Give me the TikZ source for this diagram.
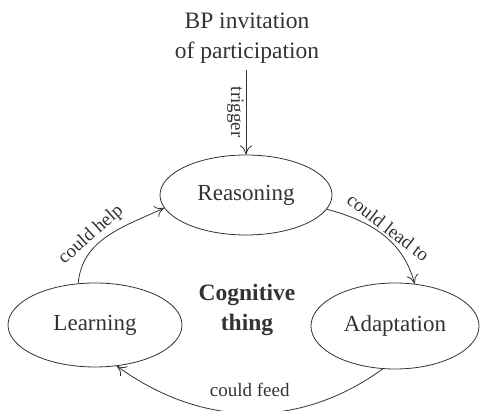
\documentclass[tikz,border=0pt]{standalone}
\usepackage{fontspec}
\setmainfont{Liberation Serif}
\usetikzlibrary{shapes.geometric,arrows.meta}
\definecolor{ink}{rgb}{0.2,0.2,0.2}
\tikzset{
  state/.style={ellipse, draw=ink, line width=0.8pt, text=ink, inner sep=0pt,
    font=\fontsize{23}{28}\selectfont},
  conn/.style={draw=ink, line width=0.8pt, -{To[length=9pt,width=12pt]}},
  lbl/.style={text=ink, font=\fontsize{19}{22}\selectfont, inner sep=2pt},
}
\begin{document}
\begin{tikzpicture}[x=1pt,y=1pt]
\useasboundingbox (0,0) rectangle (480,411);
\node[text=ink, align=center, font=\fontsize{23.5}{30}\selectfont, inner sep=0pt] (bp) at (247,373) {BP invitation\\of participation};
\coordinate (bps) at (246,341);
\node[state, minimum width=172, minimum height=80] (R) at (246,216) {Reasoning};
\node[state, minimum width=174, minimum height=84] (L) at (95,86) {Learning};
\node[state, minimum width=168, minimum height=86] (A) at (395,85) {Adaptation};
\node[text=ink, align=center, font=\fontsize{23.5}{30}\selectfont\bfseries] (cog) at (247,101) {Cognitive\\thing};

\draw[conn] (bps) -- node[lbl, midway, rotate=-90, anchor=north] (tr) {trigger} (R.north);
\draw[conn] (L.112) to[out=85, in=205] node[lbl, pos=0.4, above, sloped] (ch) {could help} (R.189);
\draw[conn] (R.-10) to[out=-15, in=105] node[lbl, midway, above, sloped] (cl) {could lead to} (A.65);
\draw[conn] (A.254) to[out=216, in=324] node[lbl, pos=0.5, above=14pt] (cf) {could feed} (L.298);
\end{tikzpicture}
\end{document}
